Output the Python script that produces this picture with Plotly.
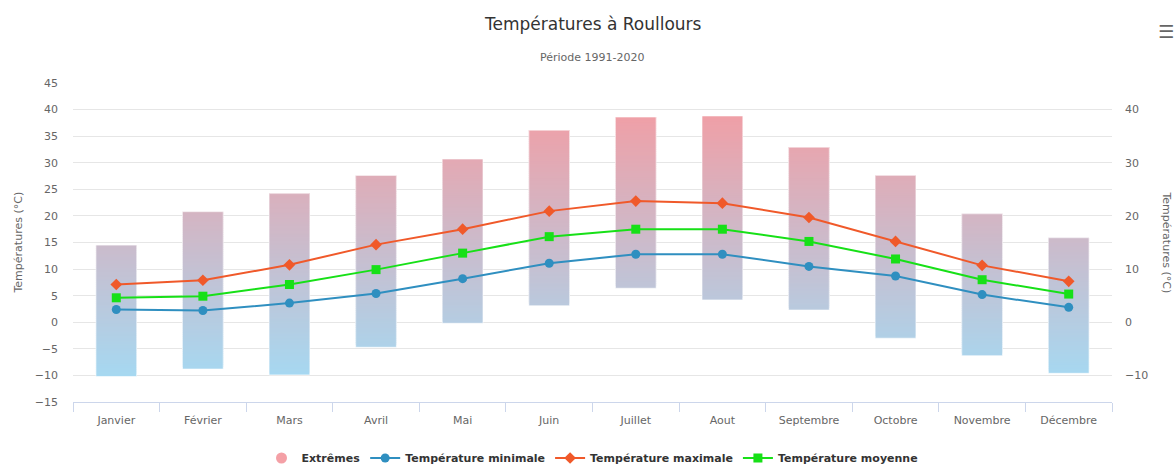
import plotly.graph_objects as go

months = ["Janvier", "Février", "Mars", "Avril", "Mai", "Juin", "Juillet",
          "Aout", "Septembre", "Octobre", "Novembre", "Décembre"]
extreme_min = [-10.2, -8.8, -9.9, -4.7, -0.2, 3.1, 6.4, 4.2, 2.3, -3.0, -6.3, -9.6]
extreme_max = [14.5, 20.8, 24.2, 27.6, 30.7, 36.1, 38.6, 38.8, 32.9, 27.6, 20.4, 15.9]
t_min = [2.4, 2.2, 3.6, 5.4, 8.2, 11.1, 12.8, 12.8, 10.5, 8.7, 5.2, 2.8]
t_max = [7.1, 7.9, 10.8, 14.6, 17.5, 20.9, 22.8, 22.4, 19.7, 15.2, 10.7, 7.7]
t_mean = [4.6, 4.9, 7.1, 9.9, 13.0, 16.1, 17.5, 17.5, 15.2, 11.9, 8.0, 5.3]

# gradient colours (absolute temperature scale)
COL_HOT = (241, 158, 165)   # at 40 °C
COL_COLD = (166, 216, 241)  # at -10 °C
T_HOT, T_COLD = 40.0, -10.0


def grad_color(v):
    f = (v - T_COLD) / (T_HOT - T_COLD)
    f = max(0.0, min(1.0, f))
    c = [round(COL_COLD[i] + (COL_HOT[i] - COL_COLD[i]) * f) for i in range(3)]
    return f"rgb({c[0]},{c[1]},{c[2]})"


# build gradient slices from the extremes data (each slice overlaps the next one)
step = 0.4
sx, sbase, sh, scol = [], [], [], []
for m, lo, hi in zip(months, extreme_min, extreme_max):
    b = lo
    while b < hi - 1e-9:
        top = min(hi, b + step)
        sx.append(m)
        sbase.append(b)
        sh.append(min(hi, b + 2.5 * step) - b)
        scol.append(grad_color((b + top) / 2))
        b = top

fig = go.Figure()

fig.add_trace(go.Bar(
    x=sx, y=sh, base=sbase, width=0.47,
    marker=dict(color=scol, line=dict(width=0)),
    showlegend=False, hoverinfo="skip",
))
# light outline of the extremes bars
fig.add_trace(go.Bar(
    x=months, y=[h - l for h, l in zip(extreme_max, extreme_min)], base=extreme_min,
    width=0.47, name="Extrêmes",
    marker=dict(color="rgba(0,0,0,0)", line=dict(color="rgba(255,255,255,0.6)", width=1)),
    showlegend=False,
))
# legend entry for extremes (circle symbol)
fig.add_trace(go.Scatter(
    x=[None], y=[None], mode="markers", name="Extrêmes",
    marker=dict(symbol="circle", size=11, color="rgb(244,160,166)"),
))

fig.add_trace(go.Scatter(
    x=months, y=t_min, mode="lines+markers", name="Température minimale",
    line=dict(color="#2f8fc0", width=2),
    marker=dict(symbol="circle", size=9, color="#2f8fc0"),
))
fig.add_trace(go.Scatter(
    x=months, y=t_max, mode="lines+markers", name="Température maximale",
    line=dict(color="#f0592a", width=2),
    marker=dict(symbol="diamond", size=9, color="#f0592a"),
))
fig.add_trace(go.Scatter(
    x=months, y=t_mean, mode="lines+markers", name="Température moyenne",
    line=dict(color="#17e017", width=2),
    marker=dict(symbol="square", size=9, color="#17e017"),
))
# invisible trace to activate right axis
fig.add_trace(go.Scatter(x=[months[0]], y=[None], yaxis="y2", showlegend=False, hoverinfo="skip"))

FONT = "DejaVu Sans, Verdana, sans-serif"

W, H = 1174, 466
L, R, T, B = 73, 62, 83, 64
pw, ph = W - L - R, H - T - B


def px_x(x):
    return (x - L) / pw


def px_y(y):
    return (H - B - y) / ph


def ann(text, x, y, size, color, angle=0):
    return dict(text=text, x=x, y=y, xref="paper", yref="paper", xanchor="center",
                yanchor="middle", showarrow=False, textangle=angle,
                font=dict(size=size, color=color))


fig.update_layout(
    width=W, height=H,
    margin=dict(l=L, r=R, t=T, b=B, autoexpand=False),
    paper_bgcolor="white", plot_bgcolor="white",
    barmode="overlay",
    font=dict(family=FONT, color="#666666", size=11),
    xaxis=dict(
        type="category", categoryorder="array", categoryarray=months,
        showgrid=False, showline=True, linecolor="#ccd6eb", linewidth=1,
        ticks="outside", tickson="boundaries", ticklen=9, tickcolor="#ccd6eb",
        tickfont=dict(size=11, color="#666666"), zeroline=False,
        ticklabelstandoff=8,
        range=[-0.5, 11.5],
    ),
    yaxis=dict(
        range=[-15, 45], dtick=5, tick0=0, showgrid=True, gridcolor="#e6e6e6",
        zeroline=False, ticks="", tickfont=dict(size=11, color="#666666"),
        ticklabelstandoff=14,
    ),
    yaxis2=dict(
        range=[-15, 45], dtick=10, tick0=0, overlaying="y", side="right",
        showgrid=False, zeroline=False, ticks="",
        tickfont=dict(size=11, color="#666666"), ticklabelstandoff=12,
    ),
    legend=dict(
        orientation="h", x=0.5, xanchor="center", y=px_y(458), yanchor="middle",
        font=dict(size=11, color="#333333", weight="bold"),
        traceorder="normal",
    ),
    annotations=[
        ann("Températures à Roullours", 0.5, px_y(24), 17, "#333333"),
        ann("Période 1991-2020", 0.5, px_y(58), 11, "#666666"),
        ann("Températures (°C)", px_x(18), 0.5, 11, "#666666", -90),
        ann("Températures (°C)", px_x(1166), 0.5, 11, "#666666", 90),
        ann("☰", px_x(1166), px_y(31), 18, "#666666"),
    ],
)

fig.write_html("out.html", config={"displayModeBar": False},
               post_script="document.body.style.margin='0';")
